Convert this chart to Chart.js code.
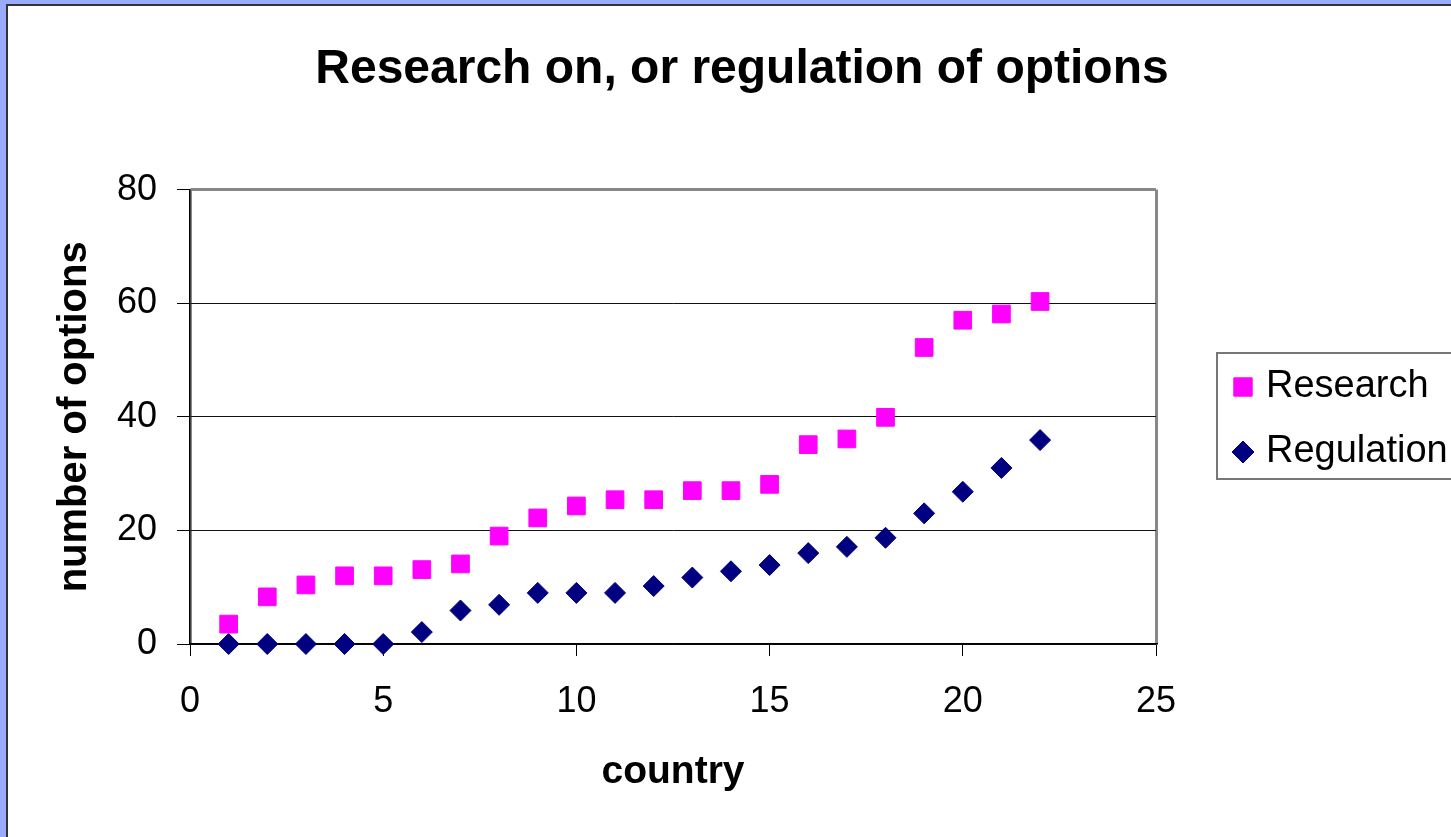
<!DOCTYPE html>
<html>
<head>
<meta charset="utf-8">
<script src="https://cdn.jsdelivr.net/npm/chart.js@4/dist/chart.umd.min.js"></script>
<style>
  html, body { margin: 0; padding: 0; width: 1451px; height: 837px; overflow: hidden; background: #9aabff; }
  #frame { position: absolute; left: 6px; top: 4px; right: 0; bottom: 0; background: #ffffff;
           border-left: 2px solid #333; border-top: 2px solid #333; }
  #c { position: absolute; left: 0; top: 0; }
</style>
</head>
<body>
<div id="frame"></div>
<canvas id="c" width="1451" height="837"></canvas>
<script>
const countries = [1, 2, 3, 4, 5, 6, 7, 8, 9, 10, 11, 12, 13, 14, 15, 16, 17, 18, 19, 20, 21, 22];
const research = [3.5, 8.3, 10.4, 12, 12, 13.1, 14.1, 19, 22.2, 24.3, 25.4, 25.4, 27, 27, 28.1, 35.1, 36.1, 39.9, 52.2, 57, 58.1, 60.3];
const regulation = [0, 0, 0, 0, 0, 2.1, 5.9, 6.9, 9, 9, 9, 10.2, 11.7, 12.8, 13.9, 16, 17.1, 18.7, 23, 26.8, 31, 35.9];
const xTickLabels = [0, 5, 10, 15, 20, 25];
const yTickLabels = [0, 20, 40, 60, 80];
const seriesNames = ['Research', 'Regulation'];

const FONT = "'Liberation Sans', Arial, sans-serif";

const legendPlugin = {
  id: 'boxLegend',
  afterDraw(chart) {
    const ctx = chart.ctx;
    ctx.save();
    ctx.strokeStyle = '#777';
    ctx.lineWidth = 2;
    ctx.strokeRect(1217, 353, 260, 126);
    const rows = [387, 452];
    chart.data.datasets.forEach((ds, i) => {
      const y = rows[i];
      ctx.fillStyle = ds.backgroundColor;
      ctx.strokeStyle = ds.borderColor;
      ctx.lineWidth = 1;
      const opts = { pointStyle: ds.pointStyle, radius: ds.pointRadius + 0.5, borderWidth: 1, rotation: 0 };
      if (Chart.helpers && Chart.helpers.drawPoint) {
        Chart.helpers.drawPoint(ctx, opts, 1243, y);
      }
      ctx.fillStyle = '#000';
      ctx.font = "38px " + FONT;
      ctx.textAlign = 'left';
      ctx.textBaseline = 'middle';
      ctx.fillText(ds.label, 1266, y);
    });
    ctx.restore();
  }
};

new Chart(document.getElementById('c'), {
  type: 'scatter',
  data: {
    datasets: [
      {
        label: seriesNames[0],
        data: countries.map((c, i) => ({ x: c, y: research[i] })),
        backgroundColor: '#ff00ff',
        borderColor: '#ff00ff',
        borderWidth: 1,
        pointStyle: 'rect',
        pointRadius: 12.5,
        pointHoverRadius: 12.5,
        clip: false
      },
      {
        label: seriesNames[1],
        data: countries.map((c, i) => ({ x: c, y: regulation[i] })),
        backgroundColor: '#000080',
        borderColor: '#000080',
        borderWidth: 1,
        pointStyle: 'rectRot',
        pointRadius: 10.5,
        pointHoverRadius: 10.5,
        clip: false
      }
    ]
  },
  options: {
    responsive: false,
    animation: false,
    devicePixelRatio: 1,
    layout: { padding: { left: 33, right: 0, top: 0, bottom: 0 } },
    plugins: {
      legend: { display: false },
      tooltip: { enabled: false },
      title: {
        display: true,
        text: 'Research on, or regulation of options',
        color: '#000',
        font: { family: FONT, size: 48, weight: 'bold' },
        padding: { top: 41, bottom: 91 }
      }
    },
    scales: {
      x: {
        type: 'linear',
        min: 0, max: 25,
        afterBuildTicks: (s) => { s.ticks = xTickLabels.map(v => ({ value: v })); },
        afterFit: (s) => { s.height = 193; },
        ticks: { color: '#000', font: { family: FONT, size: 36 }, padding: 24, maxRotation: 0 },
        grid: {
          drawOnChartArea: true,
          color: (ctx) => (ctx.tick && (ctx.tick.value === 25 || ctx.tick.value === 0)) ? '#888' : 'rgba(0,0,0,0)',
          lineWidth: (ctx) => (ctx.tick && (ctx.tick.value === 25 || ctx.tick.value === 0)) ? 3 : 1,
          tickColor: '#000',
          tickWidth: 1,
          tickLength: 12
        },
        border: { color: '#000', width: 1.5 },
        title: {
          display: true, text: 'country', color: '#000',
          font: { family: FONT, size: 39, weight: 'bold' },
          padding: { top: 0, bottom: 41 }
        }
      },
      y: {
        type: 'linear',
        min: 0, max: 80,
        afterBuildTicks: (s) => { s.ticks = yTickLabels.map(v => ({ value: v })); },
        afterFit: (s) => { s.width = 157; },
        ticks: { color: '#000', font: { family: FONT, size: 36 }, padding: 20 },
        grid: {
          color: (ctx) => (ctx.tick && ctx.tick.value === 80) ? '#888' : '#111',
          lineWidth: (ctx) => (ctx.tick && ctx.tick.value === 80) ? 3 : 1,
          tickColor: '#000',
          tickWidth: 1,
          tickLength: 13
        },
        border: { color: '#000', width: 1.5 },
        title: {
          display: true, text: 'number of options', color: '#000',
          font: { family: FONT, size: 40, weight: 'bold' },
          padding: { top: 18, bottom: 0 }
        }
      },
      yR: {
        type: 'linear',
        position: 'right',
        min: 0, max: 80,
        display: true,
        afterFit: (s) => { s.width = 295; },
        ticks: { display: false },
        grid: { display: false, drawOnChartArea: false },
        border: { display: false }
      }
    }
  },
  plugins: [legendPlugin]
});
</script>
</body>
</html>
